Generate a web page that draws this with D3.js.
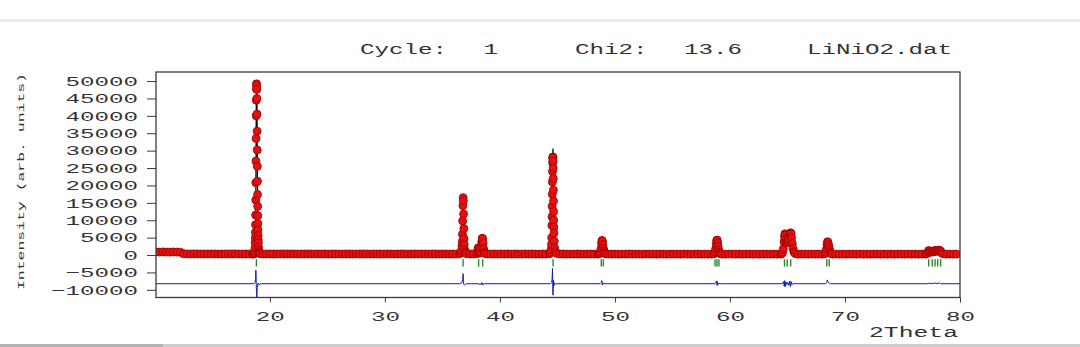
<!DOCTYPE html>
<html lang="en">
<head>
<meta charset="UTF-8">
<title>LiNiO2 Rietveld plot</title>
<script src="https://cdnjs.cloudflare.com/ajax/libs/d3/7.8.5/d3.min.js"></script>
<style>
  html, body { margin: 0; padding: 0; background: #fff; }
  svg { display: block; }
  text { font-family: "Liberation Mono", "DejaVu Sans Mono", monospace; fill: #333; }
</style>
</head>
<body>
<svg id="chart" width="1080" height="347"></svg>
<script>
// ---- data ----
const xDomain = [10.1, 80];
const yDomain = [-12200, 52600];
const xTicks = [20, 30, 40, 50, 60, 70, 80];
const yTicks = [50000, 45000, 40000, 35000, 30000, 25000, 20000, 15000, 10000, 5000, 0, -5000, -10000];

// observed background, measured every 0.3 deg from 10.1
const bgStart = 10.1, bgStep = 0.3;
const bgObs = [
  880, 840, 910, 860, 830, 890, 850, 820, 360, 330, 310, 340, 300, 320, 290, 310, 330, 300, 280, 310,
  320, 290, 300, 340, 310, 280, 300, 320, 290, 310, 300, 280, 300, 320, 290, 310, 330, 300, 290, 310,
  300, 280, 310, 290, 300, 320, 280, 290, 310, 300, 280, 300, 290, 310, 280, 300, 290, 280, 310, 290,
  300, 290, 280, 300, 310, 290, 280, 300, 290, 280, 310, 290, 300, 280, 290, 300, 280, 290, 310, 280,
  290, 300, 280, 290, 300, 280, 290, 270, 300, 290, 280, 290, 300, 280, 270, 290, 300, 280, 290, 270,
  290, 280, 300, 270, 290, 280, 270, 290, 280, 300, 270, 280, 290, 270, 280, 290, 270, 280, 300, 270,
  280, 270, 290, 280, 270, 280, 290, 270, 280, 270, 290, 280, 270, 280, 260, 280, 270, 290, 270, 280,
  270, 260, 280, 270, 280, 260, 270, 280, 260, 270, 280, 270, 260, 280, 270, 260, 270, 280, 260, 270,
  260, 270, 280, 260, 270, 260, 280, 270, 260, 270, 260, 280, 270, 260, 270, 260, 270, 280, 260, 270,
  260, 270, 260, 280, 260, 270, 260, 270, 280, 260, 270, 260, 270, 260, 280, 270, 260, 270, 260, 270,
  260, 270, 280, 260, 270, 260, 270, 260, 280, 270, 260, 270, 260, 270, 260, 280, 270, 260, 270, 260,
  270, 260, 280, 270, 260, 270, 260, 270, 280, 260, 270, 260, 270
];

// peak regions: [2theta, Iobs, Icalc]
const peakPts = [
  [[18.60, 300, 300], [18.64, 400, 380], [18.66, 600, 520], [18.68, 1100, 900], [18.70, 2000, 1600],
   [18.72, 3600, 3000], [18.73, 4900, 4100], [18.74, 6500, 5200], [18.75, 8700, 7000], [18.76, 11500, 9800],
   [18.77, 15800, 12600], [18.78, 20800, 16900], [18.79, 27000, 24000], [18.80, 33500, 32000], [18.81, 40000, 40000],
   [18.82, 44500, 45500], [18.83, 47800, 48500], [18.84, 49200, 49500], [18.85, 48800, 49200], [18.86, 47600, 48000],
   [18.87, 45000, 46500], [18.88, 40500, 44000], [18.89, 35600, 39000], [18.90, 30200, 33000], [18.91, 25500, 27500],
   [18.92, 21200, 22500], [18.93, 17400, 18000], [18.94, 14000, 14200], [18.95, 11300, 11200], [18.96, 9000, 8800],
   [18.97, 7200, 7000], [18.98, 5600, 5500], [18.99, 4400, 4300], [19.00, 3500, 3400], [19.02, 2200, 2100],
   [19.04, 1400, 1400], [19.06, 900, 950], [19.10, 600, 620], [19.15, 400, 420]],
  [[36.50, 350, 330], [36.60, 700, 650], [36.66, 1300, 1200], [36.70, 2600, 2400], [36.72, 3800, 3500],
   [36.74, 6000, 5600], [36.76, 9800, 8700], [36.78, 14200, 12300], [36.80, 16500, 14000], [36.82, 15600, 15400],
   [36.84, 11800, 12200], [36.86, 7600, 8000], [36.88, 4700, 5000], [36.90, 3000, 3200], [36.94, 1500, 1700],
   [37.00, 800, 950], [37.10, 400, 450]],
  [[38.00, 350, 340], [38.04, 700, 650], [38.08, 1500, 1450], [38.12, 2100, 2150], [38.16, 1700, 1750],
   [38.20, 900, 950], [38.26, 600, 620], [38.32, 900, 1000], [38.38, 2000, 1800], [38.42, 3800, 3700],
   [38.46, 4800, 5000], [38.50, 4700, 4600], [38.54, 3400, 3500], [38.58, 1800, 1900], [38.62, 900, 950],
   [38.70, 450, 450]],
  [[44.30, 350, 340], [44.38, 700, 650], [44.44, 1500, 1400], [44.48, 3000, 2800], [44.50, 5000, 4600],
   [44.52, 8500, 7800], [44.53, 11000, 10000], [44.54, 14000, 12800], [44.55, 17500, 16000], [44.56, 21000, 19000],
   [44.57, 24000, 19600], [44.58, 26500, 24500], [44.59, 27800, 27000], [44.60, 28200, 29500], [44.61, 27900, 30600],
   [44.62, 27000, 29800], [44.63, 25000, 26500], [44.64, 22000, 22800], [44.65, 18700, 19000], [44.66, 15500, 14500],
   [44.67, 12500, 12000], [44.68, 10000, 9800], [44.69, 8000, 8600], [44.70, 6300, 6400], [44.72, 4000, 4000],
   [44.76, 2000, 1900], [44.82, 1000, 1000], [44.92, 500, 500]],
  [[48.64, 350, 340], [48.72, 800, 760], [48.78, 1800, 1700], [48.83, 3300, 3000], [48.87, 4200, 3900],
   [48.91, 4000, 4200], [48.95, 3000, 2900], [48.99, 2000, 2000], [49.04, 1200, 1200], [49.10, 650, 650],
   [49.18, 350, 350]],
  [[58.62, 350, 340], [58.70, 800, 760], [58.76, 1800, 1700], [58.81, 3200, 3000], [58.85, 4200, 3700],
   [58.89, 4300, 4600], [58.93, 3500, 3300], [58.97, 2500, 2700], [59.02, 1500, 1500], [59.08, 800, 800],
   [59.16, 400, 400]],
  [[64.50, 350, 340], [64.58, 800, 750], [64.64, 1800, 1700], [64.70, 3800, 3500], [64.74, 5300, 5500],
   [64.78, 6100, 5500], [64.82, 5700, 6200], [64.86, 4500, 4200], [64.92, 3500, 3700], [64.98, 3700, 3600],
   [65.04, 4100, 3800], [65.10, 4600, 5000], [65.16, 5500, 5600], [65.22, 6200, 5600], [65.28, 6400, 6700],
   [65.32, 6100, 5700], [65.36, 5000, 5100], [65.42, 3300, 3500], [65.48, 1900, 1900], [65.56, 900, 900],
   [65.66, 450, 450]],
  [[68.25, 350, 340], [68.33, 800, 750], [68.39, 1700, 1500], [68.44, 3000, 2700], [68.48, 3800, 2900],
   [68.52, 3700, 3500], [68.56, 3000, 3000], [68.61, 2300, 2300], [68.66, 1500, 1500], [68.72, 900, 900],
   [68.80, 450, 450]],
  [[77.10, 350, 340], [77.20, 800, 800], [77.28, 1300, 1200], [77.36, 1100, 1100], [77.44, 800, 800],
   [77.52, 900, 900], [77.60, 1100, 1100], [77.68, 900, 900], [77.76, 1000, 1000], [77.84, 1350, 1200],
   [77.92, 1200, 1200], [78.00, 1100, 1100], [78.08, 1300, 1300], [78.16, 1400, 1250], [78.24, 1350, 1350],
   [78.32, 1100, 1100], [78.40, 700, 700], [78.50, 400, 400]]
];

// calculated profile between peaks
const calcBase = [[10.1, 850], [12.2, 840], [12.5, 310], [80, 265]];

// Yobs - Ycalc, drawn around diffOffset
const diffOffset = -8240;
const diffPts = [
  [10.1, 0], [18.60, 0], [18.72, 300], [18.76, 1500], [18.78, 3900], [18.80, 2500], [18.82, -1000],
  [18.84, -2500], [18.86, -3900], [18.88, -3000], [18.90, -1200], [18.94, -200], [19.00, 200],
  [19.06, -400], [19.12, -200], [19.20, 0],
  [36.50, 0], [36.70, 300], [36.76, 1200], [36.80, 2900], [36.83, 600], [36.86, -200], [36.92, -400],
  [37.00, -200], [37.10, 0],
  [38.10, 0], [38.30, -200], [38.40, 300], [38.46, -300], [38.50, 200], [38.56, -150], [38.70, 0],
  [44.40, 0], [44.50, 300], [44.54, 1500], [44.57, 4400], [44.59, 1000], [44.61, -3300], [44.63, -1500],
  [44.66, 1000], [44.69, -600], [44.75, 200], [44.85, -100], [44.95, 0],
  [48.70, 0], [48.82, 400], [48.86, 900], [48.90, -400], [48.95, 200], [49.05, 0],
  [58.70, 0], [58.78, 400], [58.84, 800], [58.88, -500], [58.92, 600], [58.96, -300], [59.05, 100], [59.15, 0],
  [64.55, 0], [64.66, 600], [64.72, -700], [64.76, 900], [64.80, -900], [64.86, 500], [64.94, -300],
  [65.02, 400], [65.12, -500], [65.20, 800], [65.26, -800], [65.32, 600], [65.40, -300], [65.50, 100], [65.60, 0],
  [68.30, 0], [68.42, 300], [68.46, 1100], [68.52, 600], [68.58, 300], [68.66, 100], [68.75, 0],
  [77.20, 0], [77.30, 200], [77.40, 0], [77.90, 200], [78.00, 0], [78.20, 250], [78.30, 0], [80, 0]
];

// Bragg reflection positions
const braggPos = [18.83, 36.80, 38.15, 38.50, 44.62, 48.81, 48.99, 58.70, 58.87, 59.04,
  64.74, 64.97, 65.28, 68.42, 68.63, 77.28, 77.59, 77.83, 78.06, 78.32];
const braggRange = [-1200, -3300];

// ---- drawing ----
const svg = d3.select("#chart");
const x = d3.scaleLinear().domain(xDomain).range([156, 960]);
const y = d3.scaleLinear().domain(yDomain).range([297.5, 72]);
const charW = 14.5;

// window edges of the screenshot
svg.append("rect").attr("x", 0).attr("y", 19).attr("width", 1080).attr("height", 3).attr("fill", "#ebebeb");
svg.append("rect").attr("x", 0).attr("y", 344).attr("width", 163).attr("height", 3).attr("fill", "#b4b4b4");
svg.append("rect").attr("x", 163).attr("y", 344).attr("width", 917).attr("height", 3).attr("fill", "#cdcdcd");

svg.append("clipPath").attr("id", "plotClip")
  .append("rect").attr("x", 156).attr("y", 72).attr("width", 804).attr("height", 225.5);

const plot = svg.append("g").attr("clip-path", "url(#plotClip)");

// observed points: background outside peak regions + peak points
const ranges = peakPts.map(p => [p[0][0], p[p.length - 1][0]]);
const obs = [];
bgObs.forEach((v, i) => {
  const t = bgStart + i * bgStep;
  if (!ranges.some(r => t >= r[0] && t <= r[1])) obs.push([t, v]);
});
peakPts.forEach(p => p.forEach(d => obs.push([d[0], d[1]])));
obs.sort((a, b) => a[0] - b[0]);

// calculated line
const calc = calcBase.map(d => d.slice());
peakPts.forEach(p => p.forEach(d => calc.push([d[0], d[2]])));
calc.sort((a, b) => a[0] - b[0]);

const line = d3.line().x(d => x(d[0])).y(d => y(d[1]));

plot.append("path")
  .datum(calc)
  .attr("d", line)
  .attr("fill", "none")
  .attr("stroke", "#000")
  .attr("stroke-width", 1.2);

plot.selectAll("circle.obs")
  .data(obs)
  .join("circle")
  .attr("class", "obs")
  .attr("cx", d => x(d[0]))
  .attr("cy", d => y(d[1]))
  .attr("r", 4)
  .attr("fill", "#e01212")
  .attr("stroke", "#a00000")
  .attr("stroke-width", 0.8);

plot.append("path")
  .datum(diffPts)
  .attr("d", d3.line().x(d => x(d[0])).y(d => y(d[1] + diffOffset)))
  .attr("fill", "none")
  .attr("stroke", "#1020a8")
  .attr("stroke-width", 1);

plot.selectAll("line.bragg")
  .data(braggPos)
  .join("line")
  .attr("class", "bragg")
  .attr("x1", d => x(d)).attr("x2", d => x(d))
  .attr("y1", y(braggRange[0])).attr("y2", y(braggRange[1]))
  .attr("stroke", "#2a8a2a")
  .attr("stroke-width", 1.4);

// frame
svg.append("rect")
  .attr("x", 156).attr("y", 72).attr("width", 804).attr("height", 225.5)
  .attr("fill", "none").attr("stroke", "#3a3a3a").attr("stroke-width", 1.3);

// stretched Courier-like labels
function stretch(sel) {
  sel.attr("textLength", function () { return this.textContent.length * charW; })
     .attr("lengthAdjust", "spacingAndGlyphs");
}

const yAxis = svg.append("g")
  .attr("transform", "translate(156,0)")
  .call(d3.axisLeft(y).tickValues(yTicks).tickSize(9).tickPadding(9)
    .tickFormat(d => d < 0 ? "\u2212" + Math.abs(d) : String(d)));
yAxis.select(".domain").remove();
yAxis.selectAll(".tick line").attr("stroke", "#3a3a3a");
yAxis.selectAll("text").attr("font-size", 13).attr("fill", "#333").call(stretch);

const xAxis = svg.append("g")
  .attr("transform", "translate(0,297.5)")
  .call(d3.axisBottom(x).tickValues(xTicks).tickSize(5).tickPadding(9).tickFormat(d3.format("d")));
xAxis.select(".domain").remove();
xAxis.selectAll(".tick line").attr("stroke", "#3a3a3a");
xAxis.selectAll("text").attr("font-size", 13).attr("fill", "#333").call(stretch);

// header
const header = [["Cycle:", 360], ["1", 483.5], ["Chi2:", 575], ["13.6", 684], ["LiNiO2.dat", 807]];
svg.selectAll("text.head")
  .data(header)
  .join("text")
  .attr("class", "head")
  .attr("x", d => d[1])
  .attr("y", 53.5)
  .attr("font-size", 14)
  .text(d => d[0])
  .call(stretch);

svg.append("text")
  .attr("x", 869).attr("y", 337)
  .attr("font-size", 14)
  .text("2Theta")
  .attr("textLength", 89).attr("lengthAdjust", "spacingAndGlyphs");

svg.append("text")
  .attr("transform", "translate(21,181.5) rotate(-90)")
  .attr("text-anchor", "middle")
  .attr("dy", "0.32em")
  .attr("font-size", 9)
  .attr("fill", "#666")
  .text("Intensity (arb. units)")
  .attr("textLength", 217).attr("lengthAdjust", "spacingAndGlyphs");
</script>
</body>
</html>
